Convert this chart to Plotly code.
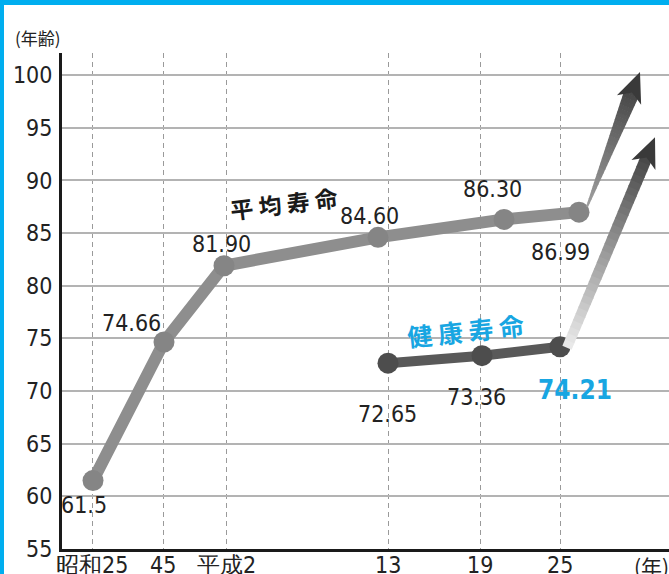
import plotly.graph_objects as go
import numpy as np

# ---------------- data ----------------
tick_labels = ["昭和25", "45", "平成2", "13", "19", "25"]
tick_pos = [30, 101, 164, 326, 418, 498]          # timeline positions of the year ticks

avg_x = [31, 102, 162, 316, 442, 517]               # 平均寿命 timeline positions
avg_y = [61.5, 74.66, 81.90, 84.60, 86.30, 86.99]
avg_text = ["61.5", "74.66", "81.90", "84.60", "86.30", "86.99"]

hl_x = [326, 420, 498]                              # 健康寿命 timeline positions
hl_y = [72.65, 73.36, 74.21]
hl_text = ["72.65", "73.36", "74.21"]

y_ticks = [55, 60, 65, 70, 75, 80, 85, 90, 95, 100]

# trend-arrow targets (timeline position, age)
avg_arrow_tip = (578, 100.3)
hl_arrow_tip = (593, 94.1)

# ---------------- layout constants ----------------
W, H = 669, 574
L, R, T, B = 62, 0, 53, 25
PW, PH = W - L - R, H - T - B
XMAX = PW
YMIN = 55
PPY = 10.53
YMAX = YMIN + PH / PPY

NUM_FONT = "Liberation Sans Narrow, DejaVu Sans Condensed, Liberation Sans, Arial, sans-serif"
CJK_FONT = "Noto Sans CJK JP, sans-serif"
CYAN = "#18a6e2"


def to_px(xd, yd):
    return np.array([L + xd * PW / XMAX, T + (YMAX - yd) * PPY])


def to_data(p):
    return (p[0] - L) * XMAX / PW, YMAX - (p[1] - T) / PPY


def path_of(points):
    pts = [to_data(p) for p in points]
    s = "M {:.3f} {:.3f}".format(*pts[0])
    for q in pts[1:]:
        s += " L {:.3f} {:.3f}".format(*q)
    return s + " Z"


def mix(c0, c1, t):
    return "rgb({},{},{})".format(*[int(round(a + (b - a) * t)) for a, b in zip(c0, c1)])


def arrow_shapes(tail, tip, w0, w1, c0, c1, head_color, nseg=30,
                 head_len=30, head_hw=13, notch=8):
    shapes = []
    p_tail = to_px(*tail)
    p_tip = to_px(*tip)
    d = p_tip - p_tail
    ln = np.hypot(*d)
    u = d / ln
    n = np.array([-u[1], u[0]])
    shaft_end = p_tip - (head_len - notch - 1) * u
    for i in range(nseg):
        t0 = i / nseg
        t1 = min(1.0, (i + 1.15) / nseg)
        a = p_tail + (shaft_end - p_tail) * t0
        b = p_tail + (shaft_end - p_tail) * t1
        wa = w0 + (w1 - w0) * t0
        wb = w0 + (w1 - w0) * t1
        pts = [a + n * wa / 2, b + n * wb / 2, b - n * wb / 2, a - n * wa / 2]
        col = mix(c0, c1, (i + 0.5) / nseg)
        shapes.append(dict(type="path", xref="x", yref="y", path=path_of(pts),
                           fillcolor=col, line=dict(width=0), layer="above"))
    head = [p_tip,
            p_tip - head_len * u + head_hw * n,
            p_tip - (head_len - notch) * u,
            p_tip - head_len * u - head_hw * n]
    shapes.append(dict(type="path", xref="x", yref="y", path=path_of(head),
                       fillcolor=head_color, line=dict(width=0), layer="above"))
    return shapes


fig = go.Figure()

fig.add_trace(go.Scatter(
    x=avg_x, y=avg_y, mode="lines+markers",
    line=dict(color="#8e8e8e", width=12),
    marker=dict(color="#858585", size=21),
    hoverinfo="skip", showlegend=False))

fig.add_trace(go.Scatter(
    x=hl_x, y=hl_y, mode="lines+markers",
    line=dict(color="#595959", width=10),
    marker=dict(color="#4d4d4d", size=21),
    hoverinfo="skip", showlegend=False))

# ---------------- arrows ----------------
shapes = []
shapes += arrow_shapes((hl_x[-1] + 7, hl_y[-1] - 0.1), hl_arrow_tip, 10, 12,
                       (236, 236, 236), (70, 70, 70), "#3a3a3a")
shapes += arrow_shapes((avg_x[-1] + 8, avg_y[-1] + 0.5), avg_arrow_tip, 2, 16,
                       (160, 160, 160), (70, 70, 70), "#3a3a3a")

# ---------------- frame (cyan border) ----------------
def fx(p):
    return (p - L) / PW


def fy(p):
    return (T + PH - p) / PH


shapes.append(dict(type="rect", xref="paper", yref="paper",
                   x0=fx(0), x1=fx(W), y0=fy(5), y1=fy(0),
                   fillcolor="#00aeef", line=dict(width=0), layer="above"))
shapes.append(dict(type="rect", xref="paper", yref="paper",
                   x0=fx(0), x1=fx(4), y0=fy(H), y1=fy(0),
                   fillcolor="#00aeef", line=dict(width=0), layer="above"))

# ---------------- annotations ----------------
ann = []
avg_off = [(-9, -24), (-33, 19), (-3, 22), (-9, 21), (-12, 30), (-19, -40)]
hl_off = [(-1, -51), (-6, -41), (15, -43)]
for x, y, t, (dx, dy) in zip(avg_x, avg_y, avg_text, avg_off):
    ann.append(dict(x=x, y=y, text=t, showarrow=False, xshift=dx, yshift=dy,
                    xanchor="center", yanchor="middle",
                    font=dict(family=NUM_FONT, size=23, color="#222222")))
for i, (x, y, t, (dx, dy)) in enumerate(zip(hl_x, hl_y, hl_text, hl_off)):
    if i == len(hl_x) - 1:
        ann.append(dict(x=x, y=y, text="<b>" + t + "</b>", showarrow=False,
                        xshift=dx, yshift=dy, xanchor="center", yanchor="middle",
                        font=dict(family=NUM_FONT, size=26, color=CYAN)))
    else:
        ann.append(dict(x=x, y=y, text=t, showarrow=False, xshift=dx, yshift=dy,
                        xanchor="center", yanchor="middle",
                        font=dict(family=NUM_FONT, size=23, color="#222222")))

# x tick labels (placed just under the axis, partly cropped as in the original)
for xv, lab in zip(tick_pos, tick_labels):
    ann.append(dict(x=xv, xref="x", yref="paper", y=fy(550),
                    xanchor="center", yanchor="top", text=lab, showarrow=False,
                    font=dict(family=NUM_FONT, size=23, color="#222222")))

# series titles
ann.append(dict(xref="paper", yref="paper", x=fx(284), y=fy(203),
                xanchor="center", yanchor="middle",
                text="<b>平 均 寿 命</b>", showarrow=False, textangle=-7,
                font=dict(family=CJK_FONT, size=23, color="#1a1a1a")))
ann.append(dict(xref="paper", yref="paper", x=fx(466), y=fy(330),
                xanchor="center", yanchor="middle",
                text="<b>健 康 寿 命</b>", showarrow=False, textangle=-6,
                font=dict(family=CJK_FONT, size=25, color=CYAN)))

# axis unit labels
ann.append(dict(xref="paper", yref="paper", x=fx(38), y=fy(37),
                xanchor="center", yanchor="middle",
                text="(年齢)", showarrow=False,
                font=dict(family=CJK_FONT, size=17, color="#222222")))
ann.append(dict(xref="paper", yref="paper", x=fx(651), y=fy(566),
                xanchor="center", yanchor="middle",
                text="(年)", showarrow=False,
                font=dict(family=CJK_FONT, size=21, color="#222222")))

fig.update_layout(
    width=W, height=H,
    margin=dict(l=L, r=R, t=T, b=B, pad=0, autoexpand=False),
    paper_bgcolor="white", plot_bgcolor="white",
    shapes=shapes, annotations=ann,
    showlegend=False,
    xaxis=dict(range=[0, XMAX], tickmode="array", tickvals=tick_pos,
               ticktext=tick_labels, showticklabels=False,
               showgrid=True, gridcolor="#9a9a9a",
               gridwidth=1, griddash="5px,4px", zeroline=False,
               showline=True, linecolor="#1a1a1a", linewidth=3, ticks="",
               automargin=False, fixedrange=True),
    yaxis=dict(range=[YMIN, YMAX], tickmode="array", tickvals=y_ticks,
               showgrid=True, gridcolor="#b3b3b3", gridwidth=1.5,
               zeroline=False, showline=True, linecolor="#1a1a1a",
               linewidth=3, ticks="", ticklabelstandoff=2, automargin=False,
               tickfont=dict(family=NUM_FONT, size=23, color="#222222"),
               fixedrange=True),
)

fig.write_html("out.html")
